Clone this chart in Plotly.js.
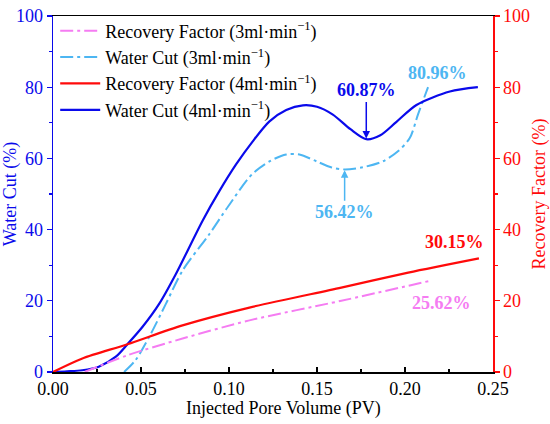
<!DOCTYPE html>
<html>
<head>
<meta charset="utf-8">
<script src="https://cdn.plot.ly/plotly-3.0.1.min.js"></script>
<style>html,body{margin:0;padding:0;background:#fff;}#chart{width:550px;height:424px;}</style>
</head>
<body>
<div id="chart"></div>
<script>
// Water Cut, 4 ml/min
const wc4X = [0, 0.008, 0.0166, 0.026, 0.0357, 0.0423, 0.0509, 0.0604, 0.0699, 0.085, 0.0945, 0.104, 0.1135, 0.123, 0.1325, 0.142, 0.150, 0.159, 0.169, 0.178, 0.186, 0.195, 0.2065, 0.2255, 0.2414];
const wc4Y = [0, 0.2, 0.5, 1.5, 4.3, 7.8, 12.7, 19.2, 27.6, 42.5, 50.8, 58.3, 64.8, 70.4, 73.6, 74.9, 74.5, 72.3, 68.2, 65.4, 66.5, 70.2, 75.0, 78.8, 80.0];
// Water Cut, 3 ml/min
const wc3X = [0.0404, 0.047, 0.0547, 0.0642, 0.0736, 0.0888, 0.0995, 0.113, 0.1235, 0.1325, 0.140, 0.1496, 0.158, 0.1657, 0.176, 0.1875, 0.196, 0.2027, 0.2075, 0.2131];
const wc3Y = [0, 3.4, 9.9, 19.2, 28.5, 38.7, 46.5, 55.5, 59.3, 61.1, 61.1, 59.2, 57.5, 56.9, 57.5, 59.2, 62.0, 65.7, 72.5, 80.0];
// Recovery Factor, 4 ml/min
const rf4X = [0, 0.0167, 0.0423, 0.0736, 0.1116, 0.1638, 0.2018, 0.242];
const rf4Y = [0, 3.8, 7.8, 13.1, 18.1, 23.7, 27.9, 31.9];
// Recovery Factor, 3 ml/min
const rf3X = [0.018, 0.0423, 0.0736, 0.1116, 0.1638, 0.2141];
const rf3Y = [0, 4.7, 9.4, 14.5, 20.0, 25.6];

const names = ['Recovery Factor (3ml·min<sup>−1</sup>)', 'Water Cut (3ml·min<sup>−1</sup>)', 'Recovery Factor (4ml·min<sup>−1</sup>)', 'Water Cut (4ml·min<sup>−1</sup>)'];
const labels = ['60.87%', '56.42%', '80.96%', '30.15%', '25.62%'];
const xTitle = 'Injected Pore Volume (PV)';

const BLUE = '#0A0AEB', RED = '#FF0A0A', CYAN = '#4DB6F2', PINK = '#F57CF2';
const FONT = 'Times New Roman, Liberation Serif, Tinos, Nimbus Roman, serif';
const DD = '13px,4px,3px,4px';

const traces = [
  {x: rf3X, y: rf3Y, name: names[0], legendgroup: 'a', yaxis: 'y2', mode: 'lines', line: {color: PINK, width: 2, dash: DD, shape: 'spline', smoothing: 0.8}},
  {x: wc3X, y: wc3Y, name: names[1], legendgroup: 'b', yaxis: 'y', mode: 'lines', line: {color: CYAN, width: 2, dash: DD, shape: 'spline', smoothing: 0.8}},
  {x: rf4X, y: rf4Y, name: names[2], legendgroup: 'c', yaxis: 'y2', mode: 'lines', line: {color: RED, width: 2.2, shape: 'spline', smoothing: 0.8}},
  {x: wc4X, y: wc4Y, name: names[3], legendgroup: 'd', yaxis: 'y', mode: 'lines', line: {color: BLUE, width: 2.2, shape: 'spline', smoothing: 0.8}}
];

const layout = {
  width: 550, height: 424,
  margin: {l: 53, r: 57, t: 14, b: 52},
  paper_bgcolor: '#fff', plot_bgcolor: '#fff',
  font: {family: FONT, size: 18, color: '#000'},
  showlegend: true,
  legend: {x: 0.005, y: 1.01, xanchor: 'left', yanchor: 'top', bgcolor: 'rgba(0,0,0,0)', font: {family: FONT, size: 18, color: '#000'}, itemwidth: 40, traceorder: 'grouped', tracegroupgap: 0},
  xaxis: {
    range: [0, 0.25], dtick: 0.05, tick0: 0, tickformat: '.2f',
    showgrid: false, zeroline: false,
    showline: true, linecolor: '#000', linewidth: 1.5, mirror: true,
    ticks: 'inside', ticklen: 5, tickwidth: 1.2, tickcolor: '#000',
    minor: {dtick: 0.025, ticks: 'inside', ticklen: 3, tickcolor: '#000', showgrid: false},
    tickfont: {family: FONT, size: 18, color: '#000'}
  },
  yaxis: {
    range: [0, 100], dtick: 20, showgrid: false, zeroline: false,
    showline: true, linecolor: BLUE, linewidth: 1.5,
    ticks: 'outside', ticklen: 5, tickwidth: 1.2, tickcolor: BLUE,
    minor: {dtick: 10, ticks: 'outside', ticklen: 3, tickcolor: BLUE, showgrid: false},
    tickfont: {family: FONT, size: 18, color: BLUE},
    title: {text: 'Water Cut (%)', font: {family: FONT, size: 18, color: BLUE}, standoff: 4}
  },
  yaxis2: {
    overlaying: 'y', side: 'right', anchor: 'x',
    range: [0, 100], dtick: 20, showgrid: false, zeroline: false,
    showline: true, linecolor: RED, linewidth: 1.5,
    ticks: 'outside', ticklen: 5, tickwidth: 1.2, tickcolor: RED,
    minor: {dtick: 10, ticks: 'outside', ticklen: 3, tickcolor: RED, showgrid: false},
    tickfont: {family: FONT, size: 18, color: RED},
    title: {text: 'Recovery Factor (%)', font: {family: FONT, size: 18, color: RED}, standoff: 4}
  },
  annotations: [
    {x: 0.523, y: -0.103, xref: 'paper', yref: 'paper', text: xTitle, showarrow: false, xanchor: 'center', yanchor: 'middle', font: {family: FONT, size: 18, color: '#000'}},
    {x: 0.178, y: 65.6, xref: 'x', yref: 'y', text: '<b>' + labels[0] + '</b>', showarrow: true, ax: 0, ay: -48, arrowhead: 2, arrowsize: 1, arrowwidth: 1.5, arrowcolor: BLUE, font: {family: FONT, size: 18, color: BLUE}},
    {x: 0.1657, y: 56.7, xref: 'x', yref: 'y', text: '<b>' + labels[1] + '</b>', showarrow: true, ax: 0, ay: 42, arrowhead: 2, arrowsize: 1, arrowwidth: 1.5, arrowcolor: CYAN, font: {family: FONT, size: 18, color: CYAN}},
    {x: 0.2187, y: 84.1, xref: 'x', yref: 'y', text: '<b>' + labels[2] + '</b>', showarrow: false, font: {family: FONT, size: 18, color: CYAN}},
    {x: 0.2284, y: 36.6, xref: 'x', yref: 'y', text: '<b>' + labels[3] + '</b>', showarrow: false, font: {family: FONT, size: 18, color: RED}},
    {x: 0.2208, y: 19.3, xref: 'x', yref: 'y', text: '<b>' + labels[4] + '</b>', showarrow: false, font: {family: FONT, size: 18, color: PINK}}
  ]
};

Plotly.newPlot('chart', traces, layout, {displayModeBar: false, staticPlot: true});
</script>
</body>
</html>
